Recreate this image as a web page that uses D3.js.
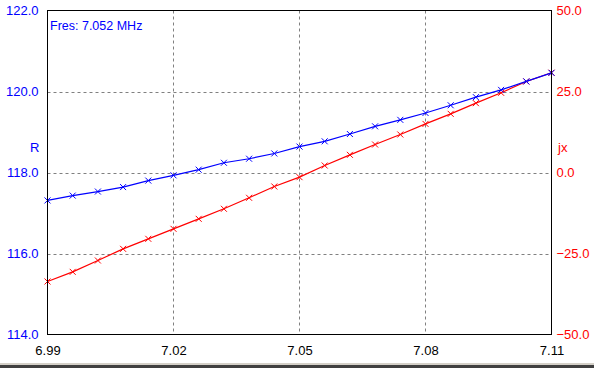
<!DOCTYPE html>
<html><head><meta charset="utf-8">
<script src="https://cdn.jsdelivr.net/npm/d3@7"></script>
<style>
html,body{margin:0;padding:0;background:#fff;}
svg{display:block;}
text{font-family:"Liberation Sans",Arial,sans-serif;}
</style></head>
<body>
<svg id="c" width="594" height="368"></svg>
<script>
const freqs = [6.990,6.996,7.002,7.008,7.014,7.020,7.026,7.032,7.038,7.044,7.050,7.056,7.062,7.068,7.074,7.080,7.086,7.092,7.098,7.104,7.110];
const rValues = [117.31,117.43,117.53,117.64,117.80,117.93,118.07,118.24,118.34,118.47,118.64,118.77,118.95,119.14,119.30,119.47,119.66,119.86,120.04,120.25,120.46];
const jxValues = [-33.64,-30.66,-27.16,-23.56,-20.47,-17.39,-14.30,-11.20,-7.81,-4.32,-1.44,2.16,5.45,8.64,11.73,15.00,18.10,21.40,24.60,28.10,30.80];
const xTicks = [6.99,7.02,7.05,7.08,7.11];
const rTicks = [114,116,118,120,122];
const jxTicks = [-50,-25,0,25,50];
const titleText = "Fres: 7.052 MHz";

const svg = d3.select("#c");
const L = 47.5, R = 551.5, T = 10.5, B = 334.5;
const x = d3.scaleLinear().domain([6.99,7.11]).range([L,R]);
const yR = d3.scaleLinear().domain([114,122]).range([B,T]);
const yJ = d3.scaleLinear().domain([-50,50]).range([B,T]);

// grid
const g = svg.append("g");
g.selectAll("line.v").data(xTicks.slice(1,-1)).join("line")
  .attr("x1",d=>Math.round(x(d))+0.5).attr("x2",d=>Math.round(x(d))+0.5)
  .attr("y1",T).attr("y2",B)
  .attr("stroke","#808080").attr("stroke-dasharray","3,3");
g.selectAll("line.h").data(rTicks.slice(1,-1)).join("line")
  .attr("y1",d=>Math.round(yR(d))+0.5).attr("y2",d=>Math.round(yR(d))+0.5)
  .attr("x1",L).attr("x2",R)
  .attr("stroke","#808080").attr("stroke-dasharray","3,3");

// series
function drawSeries(vals, yScale, color){
  const pts = freqs.map((f,i)=>[x(f), yScale(vals[i])]);
  svg.append("path").attr("d", d3.line()(pts))
    .attr("fill","none").attr("stroke",color).attr("stroke-width",1.2);
  svg.append("g").selectAll("path").data(pts).join("path")
    .attr("d",p=>`M${p[0]-3},${p[1]-3}L${p[0]+3},${p[1]+3}M${p[0]-3},${p[1]+3}L${p[0]+3},${p[1]-3}`)
    .attr("stroke",color).attr("stroke-width",1).attr("fill","none");
}
drawSeries(jxValues, yJ, "#ff0000");
drawSeries(rValues, yR, "#0000ff");

// frame
svg.append("rect").attr("x",L).attr("y",T).attr("width",R-L).attr("height",B-T)
  .attr("fill","none").attr("stroke","#000").attr("stroke-width",1);

// axes
const ax = svg.append("g").attr("transform",`translate(0,${B})`)
  .call(d3.axisBottom(x).tickValues(xTicks).tickFormat(d3.format(".2f")).tickSize(0).tickPadding(11));
const ayL = svg.append("g").attr("transform",`translate(${L},0)`)
  .call(d3.axisLeft(yR).tickValues(rTicks).tickFormat(d3.format(".1f")).tickSize(0).tickPadding(9));
const ayR = svg.append("g").attr("transform",`translate(${R},0)`)
  .call(d3.axisRight(yJ).tickValues(jxTicks).tickFormat(d3.format(".1f")).tickSize(0).tickPadding(5));
[ax,ayL,ayR].forEach(a=>{a.select(".domain").remove(); a.selectAll("text").attr("font-size",13).attr("font-family","Liberation Sans, Arial, sans-serif");});
ax.selectAll("text").attr("fill","#000");
ayL.selectAll("text").attr("fill","#0000ff");
ayR.selectAll("text").attr("fill","#ff0000");

// labels
svg.append("text").attr("x",50).attr("y",30).attr("fill","#0000ff").attr("font-size",12.5).text(titleText);
svg.append("text").attr("x",30).attr("y",152).attr("fill","#0000ff").attr("font-size",13).text("R");
svg.append("text").attr("x",558).attr("y",152).attr("fill","#ff0000").attr("font-size",13).text("jx");

// bottom window border
svg.append("rect").attr("x",0).attr("y",363).attr("width",594).attr("height",2).attr("fill","#d4d0c8");
svg.append("rect").attr("x",0).attr("y",365).attr("width",594).attr("height",3).attr("fill","#404040");
</script>
</body></html>
